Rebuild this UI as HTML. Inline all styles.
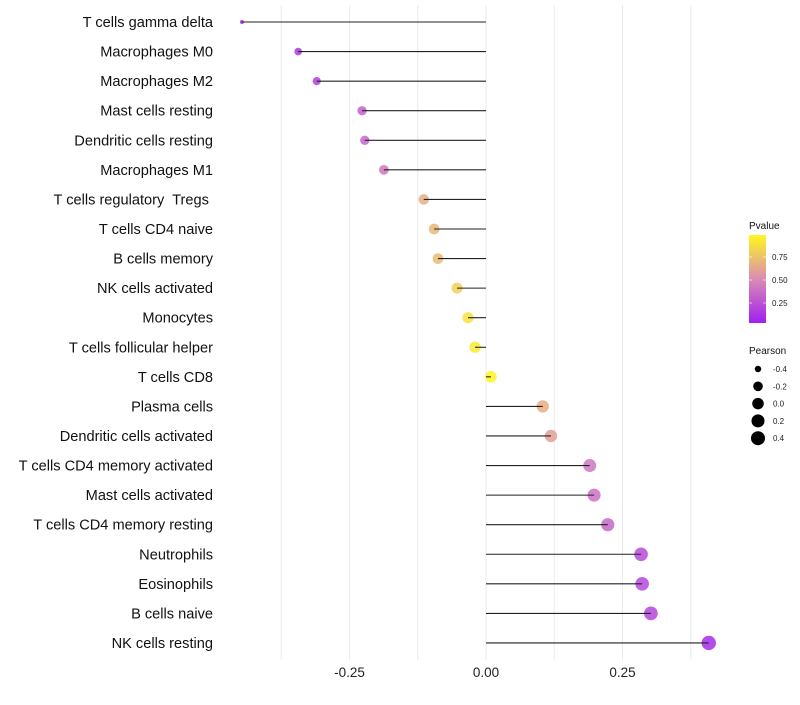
<!DOCTYPE html>
<html><head><meta charset="utf-8"><style>
body{margin:0;background:#fff;font-family:"Liberation Sans",sans-serif;}
</style></head><body>
<svg id="chart" width="800" height="700" xmlns="http://www.w3.org/2000/svg"></svg>
<script>
const categories=["T cells gamma delta","Macrophages M0","Macrophages M2","Mast cells resting","Dendritic cells resting","Macrophages M1","T cells regulatory  Tregs ","T cells CD4 naive","B cells memory","NK cells activated","Monocytes","T cells follicular helper","T cells CD8","Plasma cells","Dendritic cells activated","T cells CD4 memory activated","Mast cells activated","T cells CD4 memory resting","Neutrophils","Eosinophils","B cells naive","NK cells resting"];
const pearson=[-0.447,-0.344,-0.310,-0.227,-0.222,-0.187,-0.114,-0.095,-0.088,-0.053,-0.033,-0.020,0.009,0.104,0.119,0.190,0.198,0.223,0.284,0.286,0.302,0.408];
const pvalue=[0.04,0.10,0.14,0.30,0.32,0.40,0.66,0.70,0.72,0.82,0.90,0.94,0.99,0.66,0.60,0.40,0.37,0.33,0.20,0.19,0.17,0.06];
const xTicks=[-0.25,0,0.25];
const xTickLabels=["-0.25","0.00","0.25"];
const legendP=[0.75,0.5,0.25];
const legendPearson=[-0.4,-0.2,0.0,0.2,0.4];
const legendPearsonLabels=["-0.4","-0.2","0.0","0.2","0.4"];

const svg=document.getElementById('chart');
const NS="http://www.w3.org/2000/svg";
const X=v=>486+v*546;
const Y=i=>22+i*29.57;
const pmin=Math.min(...pearson),pmax=Math.max(...pearson);
const R=v=>2+5.2*Math.sqrt(Math.max(0,(v-pmin)/(pmax-pmin)));
function col(p){
  const stops=[[0,[160,32,240]],[0.5,[218,140,180]],[1,[255,247,30]]];
  let a=stops[0],b=stops[1];if(p>0.5){a=stops[1];b=stops[2];}
  const t=(p-a[0])/(b[0]-a[0]);
  const c=a[1].map((x,k)=>Math.round(x+(b[1][k]-x)*t));
  return `rgb(${c.join(',')})`;
}
function el(tag,attrs,parent){const e=document.createElementNS(NS,tag);for(const k in attrs)e.setAttribute(k,attrs[k]);(parent||svg).appendChild(e);return e;}

[-0.375,-0.25,-0.125,0,0.125,0.25,0.375].forEach(v=>{
  const g=el('line',{x1:X(v),x2:X(v),y1:5,y2:660,stroke:'#ebebeb','stroke-width':1});
  
  
});
xTicks.forEach((v,i)=>{
  const t=el('text',{x:X(v),y:677,'text-anchor':'middle','font-size':13.5,fill:'#222'});
  t.textContent=xTickLabels[i];
  
  
});
categories.forEach((c,i)=>{
  const t=el('text',{x:213,y:Y(i)+5,'text-anchor':'end','font-size':14.6,fill:'#111'});
  t.setAttribute('xml:space','preserve');
  t.style.whiteSpace='pre';
  t.textContent=c;
  
  
  const p=el('circle',{cx:X(pearson[i]),cy:Y(i),r:R(pearson[i]),fill:col(pvalue[i]),'fill-opacity':0.85});
  
  
  const l=el('line',{x1:X(0),x2:X(pearson[i]),y1:Y(i),y2:Y(i),stroke:'#222','stroke-width':1.1});
  
  
});
const lt=el('text',{x:749,y:229,'font-size':10,fill:'#111'});lt.textContent='Pvalue';


const defs=el('defs',{});
const gr=el('linearGradient',{id:'pg',x1:0,y1:1,x2:0,y2:0},defs);
[0,0.5,1].forEach(o=>el('stop',{offset:o,'stop-color':col(o)},gr));
const bar=el('rect',{x:749,y:235,width:17,height:88,fill:'url(#pg)'});


legendP.forEach(p=>{
  const y=326-p*92;
  el('line',{x1:749,x2:752,y1:y,y2:y,stroke:'#fff','stroke-opacity':0.6});
  el('line',{x1:763,x2:766,y1:y,y2:y,stroke:'#fff','stroke-opacity':0.6});
  const t=el('text',{x:772,y:y+3,'font-size':8,fill:'#222'});t.textContent=p.toFixed(2);
  
  
});
const lt2=el('text',{x:749,y:354,'font-size':10,fill:'#111'});lt2.textContent='Pearson';


legendPearson.forEach((v,i)=>{
  const y=369+i*17.3;
  const c=el('circle',{cx:758,cy:y,r:Math.min(7,R(v)),fill:'#000'});
  
  
  const t=el('text',{x:773,y:y+3,'font-size':8,fill:'#222'});t.textContent=legendPearsonLabels[i];
  
  
});
</script>
</body></html>
